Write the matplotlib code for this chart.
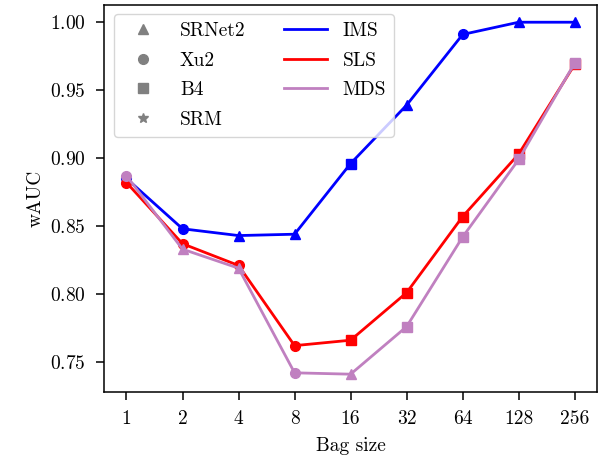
import matplotlib
matplotlib.use('Agg')
import matplotlib.pyplot as plt
from matplotlib.lines import Line2D

plt.rcParams['font.family'] = 'serif'
plt.rcParams['font.serif'] = ['cmr10']
plt.rcParams['mathtext.fontset'] = 'cm'
plt.rcParams['axes.formatter.use_mathtext'] = True
plt.rcParams['font.size'] = 14

bag_sizes = ['1', '2', '4', '8', '16', '32', '64', '128', '256']

# wAUC per bag size and the detector that gave it
ims_wauc = [0.885, 0.848, 0.843, 0.844, 0.896, 0.939, 0.991, 1.000, 1.000]
ims_best = ['Xu2', 'Xu2', 'SRNet2', 'SRNet2', 'B4', 'SRNet2', 'Xu2', 'SRNet2', 'SRNet2']
sls_wauc = [0.882, 0.837, 0.821, 0.762, 0.766, 0.801, 0.857, 0.903, 0.969]
sls_best = ['Xu2', 'Xu2', 'Xu2', 'Xu2', 'B4', 'B4', 'B4', 'B4', 'B4']
mds_wauc = [0.887, 0.833, 0.819, 0.742, 0.741, 0.776, 0.842, 0.899, 0.970]
mds_best = ['Xu2', 'SRNet2', 'SRNet2', 'Xu2', 'SRNet2', 'B4', 'B4', 'B4', 'B4']

detector_markers = {'SRNet2': '^', 'Xu2': 'o', 'B4': 's', 'SRM': '*'}
strategies = [
    ('IMS', ims_wauc, ims_best, 'blue'),
    ('SLS', sls_wauc, sls_best, 'red'),
    ('MDS', mds_wauc, mds_best, '#c080c0'),
]

fig, ax = plt.subplots(figsize=(6.05, 4.62), dpi=100)
x = list(range(len(bag_sizes)))

for name, values, best, color in strategies:
    ax.plot(x, values, color=color, linewidth=2)
    for xi, yi, det in zip(x, values, best):
        ax.plot(xi, yi, marker=detector_markers[det], color=color,
                markersize=7, linestyle='none')

ax.set_xticks(x)
ax.set_xticklabels(bag_sizes)
ax.set_xlabel('Bag size', labelpad=7)
ax.set_ylabel('wAUC', labelpad=4)
ax.tick_params(length=6, width=1.1, pad=7)
for spine in ax.spines.values():
    spine.set_linewidth(1.1)

handles = [Line2D([], [], marker=m, color='gray', linestyle='none', markersize=7)
           for m in detector_markers.values()]
labels = list(detector_markers.keys())
for name, _, _, color in strategies:
    handles.append(Line2D([], [], color=color, linewidth=2))
    labels.append(name)
ax.legend(handles, labels, ncol=2, loc='upper left', fontsize=14,
          handlelength=2.2, columnspacing=2.0, labelspacing=0.6)

fig.subplots_adjust(left=0.172, right=0.987, top=0.99, bottom=0.152)
fig.savefig('out.png', dpi=100)
